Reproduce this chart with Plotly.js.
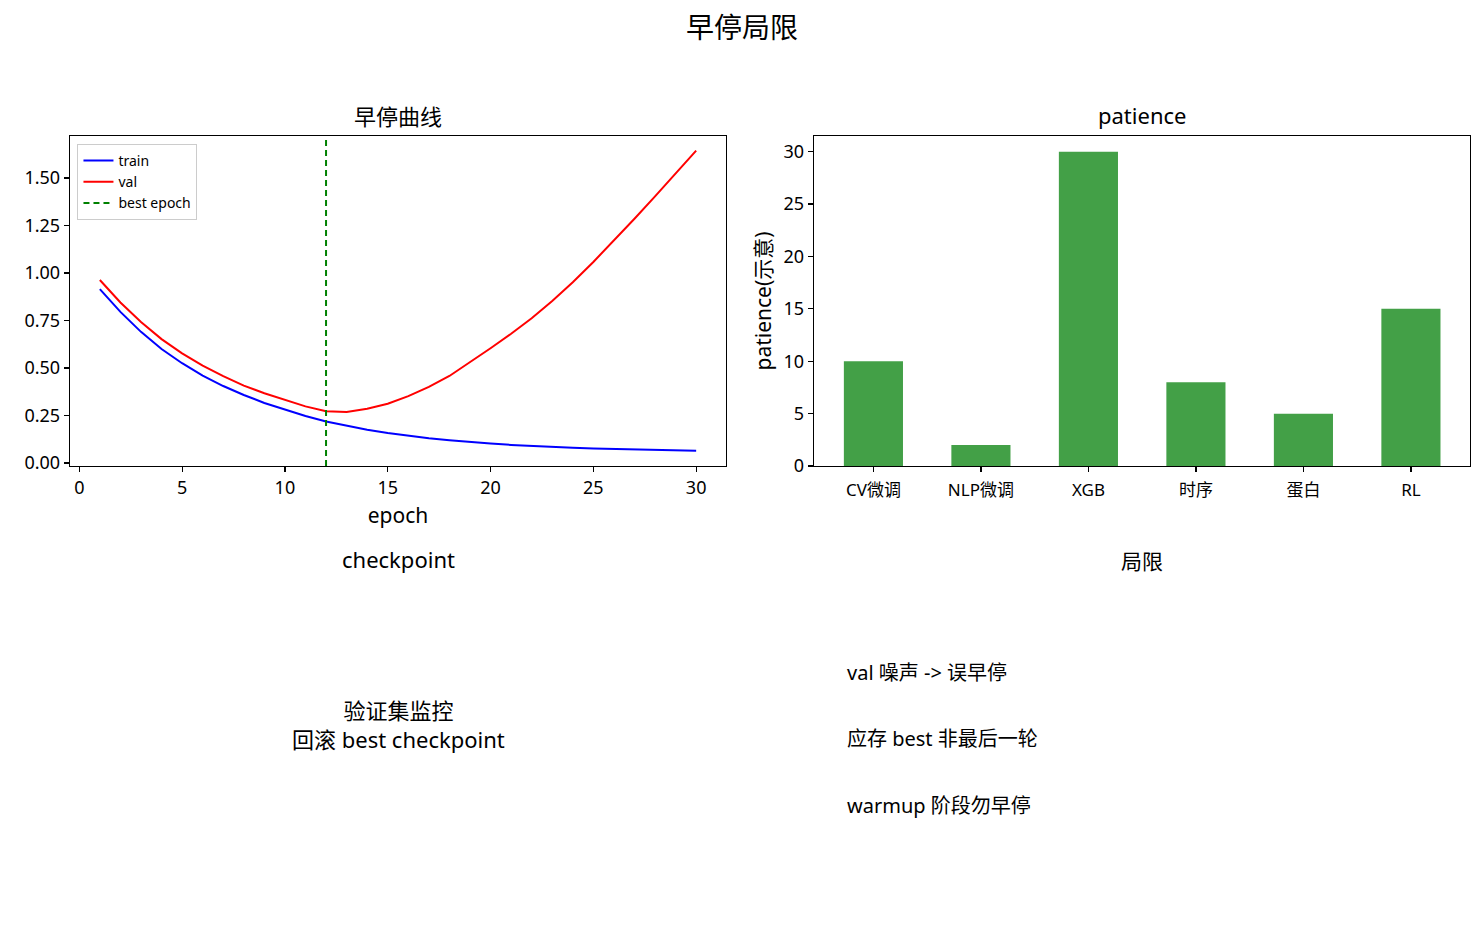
<!DOCTYPE html>
<html>
<head>
<meta charset="utf-8">
<script src="https://cdn.plot.ly/plotly-3.0.1.min.js"></script>
<style>
  html, body { margin: 0; padding: 0; background: white; }
  #chart { width: 1484px; height: 925px; }
</style>
</head>
<body>
<div id="chart"></div>
<script>
// loss curves
var epochs = [1,2,3,4,5,6,7,8,9,10,11,12,13,14,15,16,17,18,19,20,21,22,23,24,25,26,27,28,29,30];
var trainLoss = [0.915,0.795,0.690,0.600,0.525,0.460,0.405,0.358,0.316,0.280,0.247,0.218,0.195,0.175,0.158,0.143,0.130,0.120,0.110,0.102,0.095,0.089,0.084,0.080,0.076,0.073,0.070,0.068,0.066,0.064];
var valLoss = [0.963,0.845,0.742,0.652,0.577,0.512,0.457,0.407,0.367,0.332,0.298,0.272,0.268,0.285,0.312,0.352,0.400,0.458,0.530,0.604,0.680,0.762,0.853,0.951,1.058,1.170,1.285,1.403,1.523,1.644];
var bestEpoch = 12;

// patience per task
var tasks = ['CV微调', 'NLP微调', 'XGB', '时序', '蛋白', 'RL'];
var patience = [10, 2, 30, 8, 5, 15];

var leftNote = '验证集监控<br>回滚 best checkpoint';
var limits = ['val 噪声 -> 误早停', '应存 best 非最后一轮', 'warmup 阶段勿早停'];

var FONT = 'Noto Sans, Noto Sans CJK SC, sans-serif';
var lossRange = [-0.016, 1.721];

var traces = [
    {x: epochs, y: trainLoss, mode: 'lines', name: 'train',
     line: {color: 'blue', width: 2}, xaxis: 'x', yaxis: 'y'},
    {x: epochs, y: valLoss, mode: 'lines', name: 'val',
     line: {color: 'red', width: 2}, xaxis: 'x', yaxis: 'y'},
    // axvline: span the whole y range, clipped by the axes
    {x: [bestEpoch, bestEpoch], y: [lossRange[0] - 1, lossRange[1] + 1], mode: 'lines', name: 'best epoch',
     line: {color: 'green', width: 2, dash: '6px,4px'}, xaxis: 'x', yaxis: 'y'},
    {x: tasks, y: patience, type: 'bar', showlegend: false,
     marker: {color: 'rgb(67,160,71)'}, xaxis: 'x2', yaxis: 'y2'}
];

var axisStyle = {
    showline: true, mirror: true, linecolor: 'black', linewidth: 1.3,
    ticks: 'outside', ticklen: 5, tickwidth: 1.2, tickcolor: 'black',
    showgrid: false, zeroline: false,
    tickfont: {family: FONT, size: 18, color: 'black'}
};

var layout = {
    width: 1484, height: 925,
    margin: {l: 0, r: 0, t: 0, b: 0},
    paper_bgcolor: 'white', plot_bgcolor: 'white',
    font: {family: FONT, color: 'black'},
    title: {text: '早停局限', x: 0.5, xanchor: 'center', y: 0.97, yanchor: 'middle',
            font: {family: FONT, size: 28, color: 'black'}},
    xaxis: Object.assign({}, axisStyle, {
        domain: [0.0472, 0.4892], range: [-0.45, 31.45], dtick: 5, tick0: 0,
        title: {text: 'epoch', standoff: 10, font: {family: FONT, size: 21}},
        anchor: 'y'
    }),
    yaxis: Object.assign({}, axisStyle, {
        domain: [0.4962, 0.853], range: lossRange, dtick: 0.25, tick0: 0,
        tickformat: '.2f', anchor: 'x'
    }),
    xaxis2: Object.assign({}, axisStyle, {
        domain: [0.5485, 0.9906], range: [-0.553, 5.55], type: 'category',
        ticklabelstandoff: 3,
        tickfont: {family: FONT, size: 17, color: 'black'}, anchor: 'y2'
    }),
    yaxis2: Object.assign({}, axisStyle, {
        domain: [0.4962, 0.853], range: [0, 31.5], dtick: 5, tick0: 0,
        title: {text: 'patience(示意)', standoff: 6, font: {family: FONT, size: 21}},
        anchor: 'x2'
    }),
    bargap: 0.45,
    showlegend: true,
    legend: {x: 0.0522, y: 0.8443, xanchor: 'left', yanchor: 'top',
             bgcolor: 'rgba(255,255,255,0.8)', bordercolor: '#cccccc', borderwidth: 1,
             font: {family: FONT, size: 14, color: 'black'}, tracegroupgap: 0},
    annotations: [
        {text: '早停曲线', xref: 'paper', yref: 'paper', x: 0.2682, y: 1 - 116 / 925,
         xanchor: 'center', yanchor: 'middle', showarrow: false, font: {family: FONT, size: 22}},
        {text: 'patience', xref: 'paper', yref: 'paper', x: 0.7696, y: 1 - 115 / 925,
         xanchor: 'center', yanchor: 'middle', showarrow: false, font: {family: FONT, size: 22}},
        {text: 'checkpoint', xref: 'paper', yref: 'paper', x: 0.2682, y: 1 - 559 / 925,
         xanchor: 'center', yanchor: 'middle', showarrow: false, font: {family: FONT, size: 22}},
        {text: leftNote, xref: 'paper', yref: 'paper', x: 0.2682, y: 1 - 724 / 925,
         xanchor: 'center', yanchor: 'middle', align: 'center', showarrow: false, font: {family: FONT, size: 22}},
        {text: '局限', xref: 'paper', yref: 'paper', x: 0.7696, y: 1 - 561 / 925,
         xanchor: 'center', yanchor: 'middle', showarrow: false, font: {family: FONT, size: 21}}
    ]
};

// limitations list, left aligned, evenly spaced
limits.forEach(function(t, i) {
    layout.annotations.push({text: t, xref: 'paper', yref: 'paper',
        x: 845 / 1484, y: 1 - (672 + i * 66.5) / 925,
        xanchor: 'left', yanchor: 'middle', showarrow: false,
        font: {family: FONT, size: 20}});
});

Plotly.newPlot('chart', traces, layout, {displayModeBar: false, staticPlot: true});
</script>
</body>
</html>
